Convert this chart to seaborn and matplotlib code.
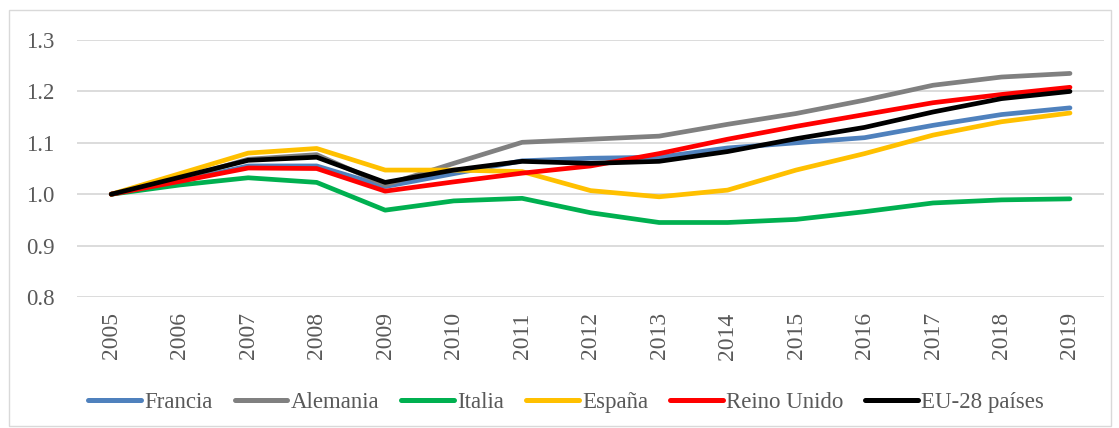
import matplotlib
matplotlib.use("Agg")
import matplotlib.pyplot as plt
import seaborn as sns
import pandas as pd

years = list(range(2005, 2020))
francia = [1.000, 1.025, 1.055, 1.055, 1.015, 1.040, 1.065, 1.070, 1.072, 1.090, 1.100, 1.110, 1.134, 1.155, 1.168]
alemania = [1.000, 1.030, 1.068, 1.077, 1.018, 1.060, 1.101, 1.107, 1.113, 1.136, 1.157, 1.183, 1.212, 1.228, 1.235]
italia = [1.000, 1.018, 1.032, 1.023, 0.969, 0.987, 0.992, 0.964, 0.945, 0.945, 0.951, 0.966, 0.983, 0.989, 0.991]
espana = [1.000, 1.040, 1.080, 1.089, 1.047, 1.047, 1.044, 1.007, 0.995, 1.008, 1.047, 1.079, 1.115, 1.141, 1.158]
reino_unido = [1.000, 1.025, 1.051, 1.050, 1.006, 1.024, 1.041, 1.055, 1.079, 1.107, 1.132, 1.155, 1.178, 1.194, 1.208]
eu28 = [1.000, 1.033, 1.066, 1.072, 1.023, 1.047, 1.064, 1.060, 1.064, 1.083, 1.108, 1.130, 1.160, 1.186, 1.200]

series = {
    "Francia": francia,
    "Alemania": alemania,
    "Italia": italia,
    "España": espana,
    "Reino Unido": reino_unido,
    "EU-28 países": eu28,
}
colors = ["#4f81bd", "#808080", "#00b050", "#ffc000", "#ff0000", "#000000"]

rows = []
for name, vals in series.items():
    for yr, v in zip(years, vals):
        rows.append({"year": yr, "value": v, "country": name})
df = pd.DataFrame(rows)

sns.set_style("white")
plt.rcParams["font.family"] = ["Liberation Serif", "DejaVu Serif"]

fig = plt.figure(figsize=(11.19, 4.28), dpi=100)
ax = fig.add_axes([0.0688, 0.306, 0.918, 0.6005])

sns.lineplot(data=df, x="year", y="value", hue="country",
             palette=colors, linewidth=3.4, ax=ax, legend=True,
             solid_capstyle="round")

ax.set_xlim(2004.5, 2019.5)
ax.set_ylim(0.8, 1.3)
ax.set_yticks([0.8, 0.9, 1.0, 1.1, 1.2, 1.3])
ax.set_yticklabels(["0.8", "0.9", "1.0", "1.1", "1.2", "1.3"])
ax.set_xticks(years)
ax.set_xticklabels([str(y) for y in years], rotation=90)
ax.tick_params(axis="y", length=0, labelsize=16.5, colors="#595959", pad=16)
ax.tick_params(axis="x", length=0, labelsize=17, colors="#595959", pad=11)
ax.grid(axis="y", color="#d9d9d9", linewidth=1.3)
ax.set_axisbelow(True)
for s in ax.spines.values():
    s.set_visible(False)
ax.set_xlabel("")
ax.set_ylabel("")

handles, labels = ax.get_legend_handles_labels()
ax.get_legend().remove()
leg = fig.legend(handles, labels, loc="center", bbox_to_anchor=(0.506, 0.059),
                 ncol=6, frameon=False, fontsize=16.5, handlelength=2.3,
                 handletextpad=0.15, columnspacing=0.95)
for t in leg.get_texts():
    t.set_color("#595959")
for l in leg.get_lines():
    l.set_linewidth(3.6)
    l.set_solid_capstyle("round")

border = plt.Rectangle((0.008, 0.005), 0.985, 0.972, transform=fig.transFigure,
                       fill=False, edgecolor="#d9d9d9", linewidth=1)
fig.patches.append(border)

fig.savefig("out.png", dpi=100)
